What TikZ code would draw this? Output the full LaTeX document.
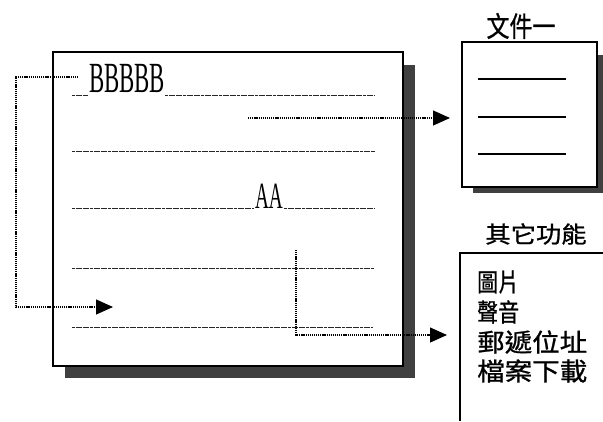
\documentclass[tikz,border=0pt]{standalone}
\usepackage{fontspec}
\setmainfont{Liberation Serif}
\newfontfamily\cjk[FakeBold=0.9]{Noto Sans CJK TC}
\usetikzlibrary{arrows.meta}
\tikzset{
  box/.style={draw=black, line width=1.5pt, fill=white, inner sep=0pt},
  shadow/.style={fill=black!75},
  rule/.style={draw=black!85, line width=0.8pt, dash pattern=on 3pt off 0.6pt},
  conn/.style={draw=black, line width=1.1pt, dash pattern=on 1.2pt off 0.9pt,
    -{Triangle[length=17pt,width=15pt]}},
  doclines/.style={draw=black, line width=2.6pt},
  cjklabel/.style={font=\cjk\fontsize{28}{30}\selectfont, inner sep=0pt},
  item/.style={font=\cjk\fontsize{25}{27}\selectfont, inner sep=0pt, anchor=west},
  serifword/.style={inner sep=0pt, anchor=base west}
}
\begin{document}
\begin{tikzpicture}[x=1pt,y=-1pt]
\useasboundingbox[fill=white] (0,0) rectangle (603,421);

% main box with shadow
\fill[shadow] (65,366) rectangle (415,378);
\fill[shadow] (403,65) rectangle (415,378);
\node[box, minimum width=350pt, minimum height=314pt] (main) at (228,209) {};

% text lines inside main box
\node[serifword, font=\fontsize{43}{43}\selectfont, xscale=0.53] (bb) at (89,92) {BBBBB};
\draw[rule] (72,95) -- (88,95);
\draw[rule] (165,95) -- (375,95);
\draw[rule] (72,151) -- (375,151);
\node[serifword, font=\fontsize{37}{37}\selectfont, xscale=0.52] (aa) at (255,208) {AA};
\draw[rule] (72,208) -- (254,208);
\draw[rule] (284,208) -- (375,208);
\draw[rule] (72,268) -- (374,268);
\draw[rule] (72,327) -- (373,327);

% document box
\fill[shadow] (473,187) rectangle (603,193);
\fill[shadow] (597,55) rectangle (603,193);
\node[box, minimum width=135pt, minimum height=145pt] (doc) at (529.5,114.5) {};
\node[cjklabel, xscale=0.82] (doctitle) at (521,26) {文件一};
\draw[doclines] (478,79) -- (566,79);
\draw[doclines] (478,117) -- (566,117);
\draw[doclines] (478,154) -- (566,154);

% other-functions box (open at right and bottom)
\coordinate (listtl) at (460,253);
\draw[line width=1.3pt] (603,253) -- (listtl) -- (460,421);
\node[cjklabel, font=\cjk\fontsize{23}{25}\selectfont, xscale=1.1] (listtitle) at (536,234) {其它功能};
\node[item, xscale=0.84] (i1) at (477,282) {圖片};
\node[item, xscale=0.84] (i2) at (477,312) {聲音};
\node[item, xscale=1.1] (i3) at (477,342) {郵遞位址};
\node[item, xscale=1.1] (i4) at (477,371) {檔案下載};

% connectors
\coordinate (s1) at (248,118);
\coordinate (t1) at (450,118);
\draw[conn] (s1) -- (t1);

\coordinate (s2) at (78,77);
\coordinate (t2) at (113,307);
\draw[conn] (s2) -- (16,77) |- (t2);

\coordinate (s3) at (296,250);
\coordinate (t3) at (447,335);
\draw[conn] (s3) |- (t3);
\end{tikzpicture}
\end{document}
